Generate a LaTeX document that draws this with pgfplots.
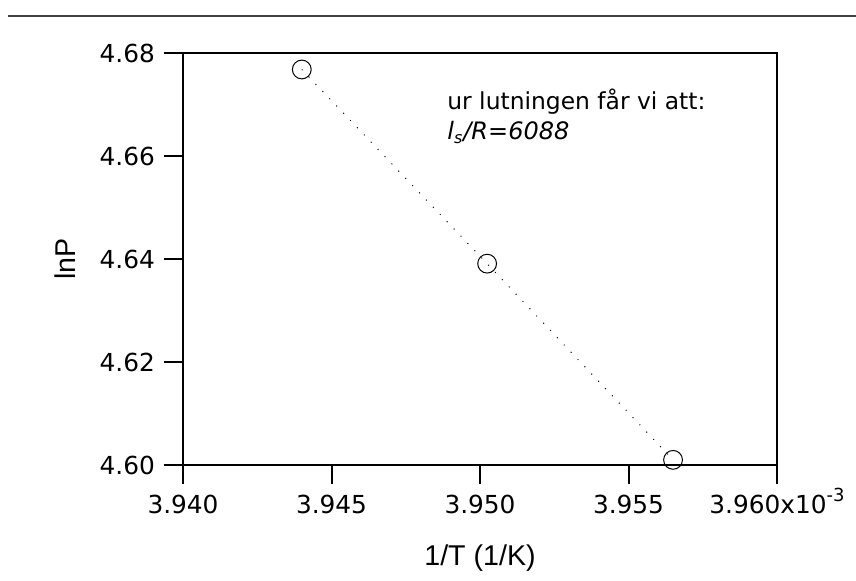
\documentclass[border=0pt]{standalone}
\usepackage{pgfplots}
\pgfplotsset{compat=1.18}
\usepackage{fontspec}
\setmainfont{DejaVu Sans}
\newfontfamily\labelfont{Liberation Sans}
\begin{document}
\begin{tikzpicture}[x=1pt,y=1pt]
\useasboundingbox (0,0) rectangle (428,290);
\draw[line width=0.6pt, black!75] (4,282) -- (428,282);
\begin{axis}[at={(91.5pt,57.5pt)}, anchor=south west, scale only axis,
  width=297pt, height=206pt,
  xmin=3.940, xmax=3.960, ymin=4.60, ymax=4.68,
  xtick={3.940,3.945,3.950,3.955,3.960},
  xticklabels={3.940,3.945,3.950,3.955,{3.960x10\smash{\raisebox{0.9ex}{\fontsize{9}{10}\selectfont -3}}}},
  ytick={4.60,4.62,4.64,4.66,4.68},
  yticklabels={4.60,4.62,4.64,4.66,4.68},
  tick align=outside, major tick length=9.5pt,
  xtick pos=bottom, ytick pos=left,
  axis line style={line width=1pt},
  every tick/.style={line width=1pt, black},
  ticklabel style={font=\fontsize{12.4}{14}\selectfont},
  xticklabel style={yshift=-2pt},
  yticklabel style={xshift=-1pt},
  clip=false]
\addplot[black, line width=0.5pt, dash pattern=on 0.5pt off 4.5pt,
  mark=o, mark size=4.7pt, mark options={solid, line width=0.5pt}]
  coordinates {(3.9440,4.6768) (3.95024,4.6391) (3.9565,4.6010)};
\node[rotate=90, font=\labelfont\fontsize{14.3}{16}\selectfont] at (axis description cs:-0.199,0.5) {lnP};
\node[font=\labelfont\fontsize{14.3}{16}\selectfont] at (axis description cs:0.5,-0.227) {1/T (1/K)};
\node[anchor=base west, inner sep=0pt, font=\fontsize{11.7}{14}\selectfont] at (axis description cs:0.4444,0.864) {ur lutningen får vi att:};
\node[anchor=base west, inner sep=0pt, font=\fontsize{12}{14}\selectfont\itshape] at (axis description cs:0.4444,0.789) {l\textsubscript{s}/R=6088};
\end{axis}
\end{tikzpicture}
\end{document}
